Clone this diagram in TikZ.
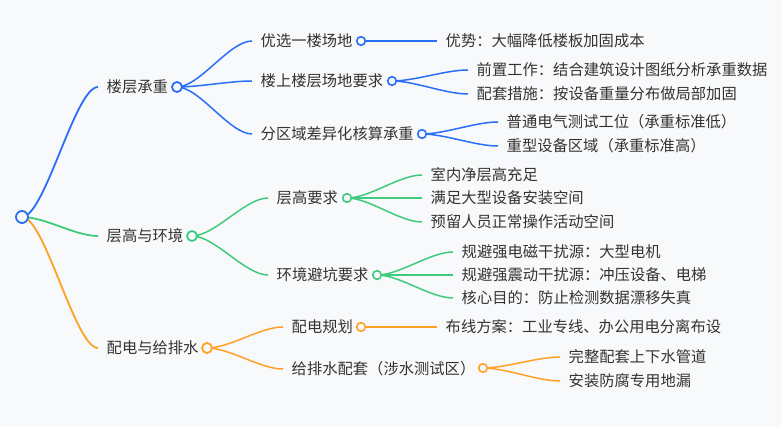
\documentclass[tikz,border=0pt]{standalone}
\usepackage{fontspec}
\setmainfont{Noto Sans CJK SC}
\usetikzlibrary{calc}
\definecolor{bgc}{HTML}{F8F9FB}
\definecolor{mblue}{HTML}{2B6EF6}
\definecolor{mgreen}{HTML}{3FCB7E}
\definecolor{morange}{HTML}{FFA126}
\definecolor{txt}{HTML}{333333}
\newcommand{\mlink}[3]{\draw[#1] (#2) .. controls ($(#2)!0.3!(#3 |- #2)$) and ($(#3)!0.3!(#2 |- #3)$) .. (#3);}
\begin{document}
\begin{tikzpicture}[x=1pt,y=-1pt,
  lbl/.style={anchor=west,inner xsep=8.5pt,inner ysep=0pt,text=txt,font=\fontsize{15.3}{17}\selectfont},
  dotc/.style={circle,draw=#1,fill=bgc,line width=1.6pt,inner sep=0pt,minimum size=8.6pt},
  dotb/.style={circle,draw=#1,fill=bgc,line width=1.8pt,inner sep=0pt,minimum size=10pt},
  ln1/.style={draw=#1,line width=1.8pt},
  ln2/.style={draw=#1,line width=1.5pt}]
\fill[bgc] (0,0) rectangle (782,427);
\useasboundingbox (0,0) rectangle (782,427);
% coordinates for circles
\coordinate (r) at (22,217);
\coordinate (c1) at (177,87);
\coordinate (c2) at (192,236);
\coordinate (c3) at (207,348);
\coordinate (c11) at (361,41);
\coordinate (c12) at (392,81);
\coordinate (c13) at (422,134);
\coordinate (c21) at (347,198);
\coordinate (c22) at (377,275);
\coordinate (c31) at (361,327);
\coordinate (c32) at (483,368);
% labels
\node[lbl] (t1) at (98,87) {楼层承重};
\node[lbl] (t2) at (98,236) {层高与环境};
\node[lbl] (t3) at (98,348) {配电与给排水};
\node[lbl] (t11) at (252,41) {优选一楼场地};
\node[lbl] (t12) at (252,81) {楼上楼层场地要求};
\node[lbl] (t13) at (252,134) {分区域差异化核算承重};
\node[lbl] (t111) at (437,41) {优势：大幅降低楼板加固成本};
\node[lbl] (t121) at (468,70) {前置工作：结合建筑设计图纸分析承重数据};
\node[lbl] (t122) at (468,94) {配套措施：按设备重量分布做局部加固};
\node[lbl] (t131) at (498,122) {普通电气测试工位（承重标准低）};
\node[lbl] (t132) at (498,146) {重型设备区域（承重标准高）};
\node[lbl] (t21) at (268,198) {层高要求};
\node[lbl] (t22) at (268,275) {环境避坑要求};
\node[lbl] (t211) at (422,175) {室内净层高充足};
\node[lbl] (t212) at (422,198) {满足大型设备安装空间};
\node[lbl] (t213) at (422,222) {预留人员正常操作活动空间};
\node[lbl] (t221) at (453,252) {规避强电磁干扰源：大型电机};
\node[lbl] (t222) at (453,275) {规避强震动干扰源：冲压设备、电梯};
\node[lbl] (t223) at (453,298) {核心目的：防止检测数据漂移失真};
\node[lbl] (t31) at (283,327) {配电规划};
\node[lbl] (t32) at (283,369) {给排水配套（涉水测试区）};
\node[lbl] (t311) at (437,327) {布线方案：工业专线、办公用电分离布设};
\node[lbl] (t321) at (560,357) {完整配套上下水管道};
\node[lbl] (t322) at (560,381) {安装防腐专用地漏};
% links
\mlink{ln1=mblue}{r}{t1.west}
\mlink{ln1=mgreen}{r}{t2.west}
\mlink{ln1=morange}{r}{t3.west}
\mlink{ln2=mblue}{c1}{t11.west}
\mlink{ln2=mblue}{c1}{t12.west}
\mlink{ln2=mblue}{c1}{t13.west}
\mlink{ln2=mblue}{c11}{t111.west}
\mlink{ln2=mblue}{c12}{t121.west}
\mlink{ln2=mblue}{c12}{t122.west}
\mlink{ln2=mblue}{c13}{t131.west}
\mlink{ln2=mblue}{c13}{t132.west}
\mlink{ln2=mgreen}{c2}{t21.west}
\mlink{ln2=mgreen}{c2}{t22.west}
\mlink{ln2=mgreen}{c21}{t211.west}
\mlink{ln2=mgreen}{c21}{t212.west}
\mlink{ln2=mgreen}{c21}{t213.west}
\mlink{ln2=mgreen}{c22}{t221.west}
\mlink{ln2=mgreen}{c22}{t222.west}
\mlink{ln2=mgreen}{c22}{t223.west}
\mlink{ln2=morange}{c3}{t31.west}
\mlink{ln2=morange}{c3}{t32.west}
\mlink{ln2=morange}{c31}{t311.west}
\mlink{ln2=morange}{c32}{t321.west}
\mlink{ln2=morange}{c32}{t322.west}
% circles
\node[dotb=mblue,minimum size=12pt] (root) at (r) {};
\node[dotb=mblue] (n1) at (c1) {};
\node[dotb=mgreen] (n2) at (c2) {};
\node[dotb=morange] (n3) at (c3) {};
\node[dotc=mblue] (n11) at (c11) {};
\node[dotc=mblue] (n12) at (c12) {};
\node[dotc=mblue] (n13) at (c13) {};
\node[dotc=mgreen] (n21) at (c21) {};
\node[dotc=mgreen] (n22) at (c22) {};
\node[dotc=morange] (n31) at (c31) {};
\node[dotc=morange] (n32) at (c32) {};
\end{tikzpicture}
\end{document}
